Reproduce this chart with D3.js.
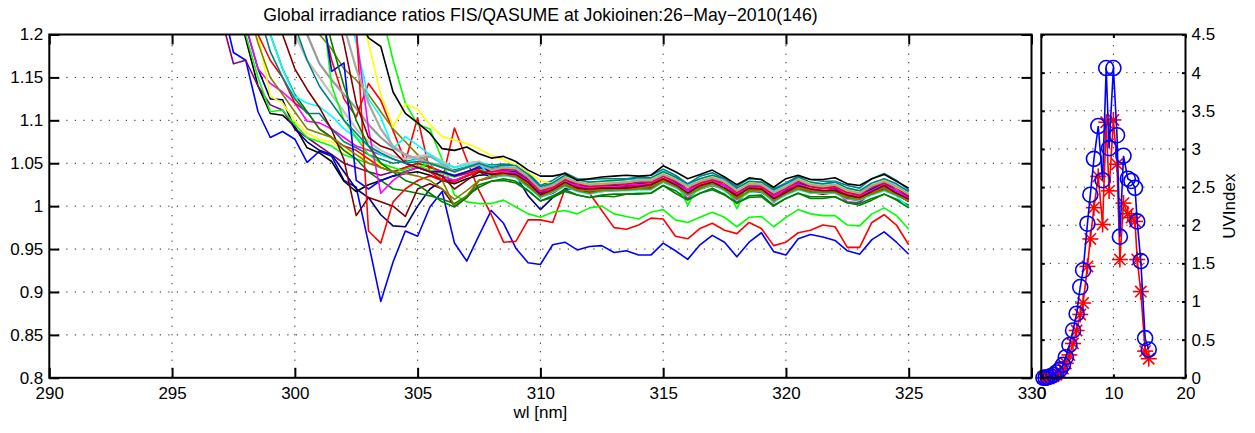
<!DOCTYPE html>
<html>
<head>
<meta charset="utf-8">
<script src="https://cdn.jsdelivr.net/npm/d3@7"></script>
<style>
  html, body { margin: 0; padding: 0; background: #fff; }
  svg { display: block; font-family: "Liberation Sans", Arial, Helvetica, sans-serif; }
</style>
</head>
<body>
<svg id="chart" width="1255" height="433"></svg>
<script>
// ---------- data ----------
const N = null;

// wavelength grid of the spectral scans [nm]
const wavelengths = [296.5,297,297.5,298,298.5,299,299.5,300,300.5,301,301.5,302,302.5,303,303.5,304,304.5,305,305.5,306,306.5,307,307.5,
  308,308.5,309,309.5,310,310.5,311,311.5,312,312.5,313,313.5,314,314.5,315,315.5,316,316.5,317,317.5,318,318.5,319,319.5,320,320.5,321,321.5,322,322.5,323,323.5,324,324.5,325];

// FIS/QASUME global irradiance ratio, one array per scan
const scanBlueLow = [N,1.24,1.179,1.170,1.110,1.080,1.087,1.078,1.051,1.064,1.058,1.030,1.022,0.957,0.889,0.935,0.971,0.965,0.999,1.017,0.957,0.936,0.966,
  0.995,0.980,0.951,0.934,0.932,0.955,0.958,0.949,0.953,0.954,0.946,0.948,0.943,0.943,0.957,0.948,0.938,0.955,0.966,0.958,0.941,0.958,0.969,0.947,0.943,0.962,0.967,0.964,0.960,0.948,0.944,0.961,0.970,0.958,0.944];
const scanRedLow = [N,N,N,N,N,N,N,N,N,1.23,1.17,1.125,1.104,1.143,1.123,1.088,1.052,1.103,1.040,1.030,1.091,1.054,1.018,
  0.990,0.958,0.959,0.984,0.984,0.981,1.020,1.027,1.015,0.995,0.975,0.973,0.978,0.986,0.985,0.965,0.962,0.974,0.980,0.972,0.968,0.981,0.974,0.954,0.958,0.969,0.972,0.978,0.976,0.952,0.952,0.981,0.990,0.978,0.955];
const scanGreenLow = [N,N,N,N,N,N,N,N,N,N,N,N,N,N,1.23,1.17,1.12,1.095,1.090,1.054,1.013,1.005,1.003,
  1.003,1.007,0.999,0.991,0.987,0.993,0.995,0.991,0.998,1.000,0.991,0.988,0.985,0.993,0.996,0.984,0.981,0.987,0.993,0.987,0.976,0.987,0.988,0.976,0.987,0.996,0.991,0.989,0.989,0.978,0.977,0.991,0.998,0.989,0.973];
const scanBlack2 = [N,N,1.25,1.195,1.14,1.108,1.106,1.093,1.068,1.062,1.052,1.029,1.017,1.025,1.030,1.035,1.038,1.040,1.036,1.030,1.026,1.032,1.036,
  1.037,1.038,1.035,1.026,1.014,1.018,1.025,1.021,1.018,1.020,1.019,1.022,1.022,1.023,1.032,1.023,1.015,1.023,1.027,1.021,1.012,1.018,1.019,1.008,1.017,1.023,1.017,1.017,1.019,1.012,1.009,1.015,1.022,1.015,1.006];
const scanPurple = [N,1.22,1.166,1.170,1.14,1.118,1.112,1.09,1.08,1.07,1.06,1.05,1.045,1.04,1.036,1.04,1.045,1.05,1.046,1.04,1.036,1.04,1.044,
  1.043,1.046,1.043,1.032,1.020,1.026,1.033,1.027,1.024,1.027,1.028,1.028,1.029,1.029,1.038,1.032,1.022,1.029,1.035,1.028,1.017,1.026,1.027,1.015,1.023,1.029,1.025,1.025,1.025,1.018,1.017,1.023,1.028,1.022,1.015];
const scanNavy = [N,N,1.26,1.21,1.16,1.125,1.124,1.09,1.075,1.065,1.06,1.04,1.02,1.01,0.99,0.977,0.976,1.00,1.02,1.03,1.03,1.035,1.04,
  1.034,1.037,1.036,1.012,0.996,1.010,1.020,1.020,1.017,1.018,1.019,1.020,1.022,1.022,1.029,1.023,1.015,1.021,1.025,1.021,1.010,1.018,1.017,1.008,1.015,1.023,1.017,1.015,1.017,1.010,1.007,1.016,1.021,1.015,1.006];
const scanGreen = [N,N,1.24,1.20,1.15,1.11,1.112,1.095,1.08,1.075,1.07,1.06,1.055,1.05,1.045,1.04,1.043,1.047,1.042,1.038,1.034,1.038,1.042,
  1.041,1.042,1.041,1.032,1.017,1.023,1.032,1.025,1.024,1.025,1.025,1.025,1.027,1.029,1.036,1.029,1.019,1.028,1.032,1.025,1.016,1.025,1.024,1.013,1.020,1.028,1.024,1.022,1.022,1.017,1.014,1.021,1.028,1.019,1.012];
const scanMagenta = [N,N,1.25,1.21,1.16,1.143,1.133,1.12,1.099,1.097,1.09,1.08,1.07,1.065,1.06,1.055,1.05,1.045,1.04,1.035,1.03,1.036,1.04,
  1.036,1.039,1.036,1.025,1.013,1.019,1.026,1.020,1.017,1.020,1.021,1.021,1.022,1.022,1.031,1.025,1.009,1.022,1.028,1.021,1.004,1.019,1.020,1.004,1.016,1.022,1.018,1.018,1.018,1.005,1.004,1.016,1.021,1.015,1.008];
const scanYellow = [N,N,N,1.25,1.2,1.128,1.12,1.10,1.085,1.078,1.075,1.065,1.06,1.055,1.048,1.045,1.04,1.045,1.05,1.045,1.04,1.045,1.046,
  1.041,1.042,1.039,1.030,1.018,1.022,1.029,1.025,1.022,1.024,1.023,1.026,1.026,1.027,1.036,1.027,1.019,1.027,1.031,1.025,1.016,1.022,1.023,1.012,1.021,1.027,1.021,1.021,1.023,1.016,1.013,1.019,1.026,1.019,1.010];
const scanRed = [N,N,N,1.24,1.2,1.17,1.15,1.12,1.11,1.09,1.08,1.07,1.065,1.055,1.045,1.04,1.045,1.05,1.045,1.04,1.035,1.038,1.042,
  1.037,1.040,1.039,1.029,1.015,1.019,1.028,1.023,1.020,1.021,1.022,1.023,1.025,1.025,1.032,1.026,1.018,1.024,1.028,1.024,1.013,1.021,1.020,1.011,1.018,1.026,1.020,1.018,1.020,1.013,1.010,1.019,1.024,1.018,1.009];
const scanTeal = [N,N,N,N,1.23,1.18,1.15,1.125,1.108,1.108,1.09,1.075,1.068,1.06,1.055,1.05,1.052,1.055,1.05,1.045,1.042,1.046,1.05,
  1.048,1.049,1.048,1.039,1.024,1.030,1.039,1.032,1.031,1.032,1.032,1.032,1.034,1.036,1.043,1.036,1.026,1.035,1.039,1.032,1.023,1.032,1.031,1.020,1.027,1.035,1.031,1.029,1.029,1.024,1.021,1.032,1.038,1.030,1.019];
const scanDarkGreen = [N,N,N,N,1.25,1.2,1.16,1.13,1.11,1.09,1.08,1.065,1.055,1.04,1.03,1.02,1.018,1.015,1.012,1.008,1.003,1.012,1.022,
  1.029,1.032,1.029,1.018,1.006,1.012,1.019,1.013,1.010,1.013,1.014,1.014,1.015,1.015,1.024,1.018,1.008,1.015,1.021,1.014,1.003,1.012,1.013,1.001,1.009,1.015,1.011,1.011,1.011,1.004,1.003,1.009,1.014,1.008,1.001];
const scanCyan = [N,N,N,N,1.26,1.2,1.16,1.128,1.12,1.116,1.105,1.09,1.08,1.07,1.06,1.055,1.05,1.055,1.06,1.052,1.045,1.05,1.052,
  1.046,1.047,1.044,1.035,1.023,1.027,1.034,1.030,1.027,1.029,1.028,1.031,1.031,1.032,1.041,1.032,1.024,1.032,1.036,1.030,1.021,1.027,1.028,1.017,1.026,1.032,1.026,1.026,1.028,1.021,1.018,1.024,1.031,1.024,1.015];
const scanMaroon = [N,N,N,N,N,1.25,1.20,1.16,1.136,1.115,1.089,1.054,0.989,1.01,1.005,1.0,0.988,1.02,1.026,1.02,1.0,1.01,1.03,
  1.033,1.036,1.035,1.025,1.011,1.015,1.024,1.019,1.016,1.017,1.018,1.019,1.021,1.021,1.028,1.022,1.014,1.020,1.024,1.020,1.009,1.017,1.016,1.007,1.014,1.022,1.016,1.014,1.016,1.009,1.006,1.015,1.020,1.014,1.005];
const scanOlive = [N,N,N,N,N,N,N,N,1.25,1.2,1.183,1.16,1.147,1.13,1.11,1.09,1.075,1.06,1.05,1.03,1.0,1.012,1.03,
  1.035,1.036,1.035,1.026,1.011,1.017,1.026,1.019,1.018,1.019,1.019,1.019,1.021,1.023,1.030,1.023,1.013,1.022,1.026,1.019,1.010,1.019,1.018,1.007,1.014,1.022,1.018,1.016,1.016,1.011,1.008,1.015,1.022,1.013,1.006];
const scanGray = [N,N,N,N,N,N,N,1.25,1.2,1.166,1.147,1.13,1.114,1.095,1.08,1.068,1.06,1.055,1.058,1.05,1.04,1.045,1.048,
  1.042,1.045,1.042,1.031,1.019,1.025,1.032,1.026,1.023,1.026,1.027,1.027,1.028,1.028,1.037,1.031,1.021,1.028,1.034,1.027,1.016,1.025,1.026,1.014,1.022,1.028,1.024,1.024,1.024,1.017,1.016,1.022,1.027,1.021,1.014];
const scanSilver = [N,N,N,N,N,N,1.24,1.20,1.17,1.15,1.13,1.11,1.09,1.075,1.065,1.058,1.055,1.058,1.06,1.052,1.045,1.05,1.052,
  1.042,1.043,1.040,1.031,1.019,1.023,1.030,1.026,1.023,1.025,1.024,1.027,1.027,1.028,1.037,1.028,1.020,1.028,1.032,1.026,1.017,1.023,1.024,1.013,1.022,1.028,1.022,1.022,1.024,1.017,1.014,1.020,1.027,1.020,1.011];
const scanGreen2 = [N,N,N,N,N,N,N,N,N,1.26,1.14,1.10,1.08,1.06,1.05,1.045,1.04,1.045,1.05,1.045,1.04,1.045,1.05,
  1.041,1.044,1.043,1.033,1.019,1.023,1.032,1.027,1.024,1.025,1.026,1.027,1.029,1.029,1.036,1.030,1.001,1.028,1.032,1.028,0.997,1.025,1.024,1.015,1.022,1.030,1.024,1.022,1.024,1.017,1.014,1.023,1.028,1.022,1.013];
const scanBlue2 = [N,N,N,N,N,N,N,N,N,1.25,1.157,1.167,1.03,1.02,1.03,1.035,1.04,1.045,1.04,1.04,1.035,1.04,1.046,
  1.040,1.041,1.040,1.031,1.016,1.022,1.031,1.024,1.023,1.024,1.024,1.024,1.026,1.028,1.035,1.028,1.018,1.027,1.031,1.024,1.015,1.024,1.023,1.012,1.019,1.027,1.023,1.021,1.021,1.016,1.013,1.020,1.027,1.018,1.011];
const scanCyan2 = [N,N,N,N,N,N,N,N,N,N,N,1.25,1.19,1.125,1.104,1.067,1.081,1.071,1.06,1.05,1.045,1.048,1.05,
  1.033,1.036,1.033,1.022,1.010,1.016,1.023,1.017,1.014,1.017,1.018,1.018,1.019,1.019,1.028,1.022,1.012,1.019,1.025,1.018,1.007,1.016,1.017,1.005,1.013,1.019,1.015,1.015,1.015,1.008,1.007,1.013,1.018,1.012,0.998];
const scanMagenta2 = [N,N,N,N,N,N,N,N,N,N,N,1.25,1.20,1.09,1.015,1.03,1.04,1.045,1.04,1.035,1.03,1.035,1.04,
  1.040,1.041,1.038,1.029,1.017,1.021,1.028,1.024,1.021,1.023,1.022,1.025,1.025,1.026,1.035,1.026,1.018,1.026,1.030,1.024,1.015,1.021,1.022,1.011,1.020,1.026,1.020,1.020,1.022,1.015,1.012,1.018,1.025,1.018,1.009];
const scanRed2 = [N,N,N,N,N,N,N,N,N,N,N,N,1.21,0.971,0.957,1.005,1.02,1.03,1.035,1.03,1.028,1.035,1.04,
  1.040,1.043,1.042,1.032,1.018,1.022,1.031,1.026,1.023,1.024,1.025,1.026,1.028,1.028,1.035,1.029,1.021,1.027,1.031,1.027,1.016,1.024,1.023,1.014,1.021,1.029,1.023,1.021,1.023,1.016,1.013,1.022,1.027,1.021,1.012];
const scanYellow2 = [N,N,N,N,N,N,N,N,N,N,N,N,1.24,1.19,1.13,1.092,1.119,1.113,1.095,1.081,1.077,1.073,1.067,
  1.059,1.054,1.048,1.039,1.030,1.026,1.035,1.028,1.027,1.028,1.028,1.028,1.030,1.032,1.039,1.032,1.022,1.031,1.035,1.028,1.019,1.028,1.027,1.016,1.023,1.031,1.027,1.025,1.025,1.020,1.017,1.024,1.031,1.022,1.015];
const scanMaroon2 = [N,N,N,N,N,N,N,N,N,N,1.25,1.19,1.12,1.08,1.07,1.065,1.05,1.045,1.04,1.035,1.02,1.03,1.04,
  1.037,1.038,1.037,1.028,1.013,1.019,1.028,1.021,1.020,1.021,1.021,1.021,1.023,1.025,1.032,1.025,1.015,1.024,1.028,1.021,1.012,1.021,1.020,1.009,1.016,1.024,1.020,1.018,1.018,1.013,1.010,1.017,1.024,1.015,1.008];
const scanGray2 = [N,N,N,N,N,N,N,N,N,N,1.26,1.21,1.16,1.12,1.09,1.07,1.06,1.055,1.05,1.048,1.04,1.045,1.05,
  1.042,1.045,1.044,1.034,1.020,1.024,1.033,1.028,1.025,1.026,1.027,1.028,1.030,1.030,1.037,1.031,1.023,1.029,1.033,1.029,1.018,1.026,1.025,1.016,1.023,1.031,1.025,1.023,1.025,1.018,1.015,1.024,1.029,1.023,1.014];
const scanDarkGreen2 = [N,N,N,N,N,N,N,N,N,1.25,1.19,1.14,1.10,1.07,1.05,1.04,1.03,1.025,1.015,1.005,0.999,1.01,1.025,
  1.029,1.030,1.027,1.018,1.006,1.010,1.017,1.013,1.010,1.012,1.011,1.014,1.014,1.015,1.024,1.015,1.007,1.015,1.019,1.013,1.004,1.010,1.011,1.000,1.009,1.015,1.009,1.009,1.011,1.004,1.001,1.007,1.014,1.007,0.998];
const scanOlive2 = [N,N,N,1.24,1.19,1.15,1.13,1.11,1.09,1.085,1.08,1.07,1.06,1.05,1.045,1.04,1.038,1.035,1.03,1.02,1.008,1.018,1.03,
  1.034,1.037,1.034,1.023,1.011,1.017,1.024,1.018,1.015,1.018,1.019,1.019,1.020,1.020,1.029,1.023,1.013,1.020,1.026,1.019,1.008,1.017,1.018,1.006,1.014,1.020,1.016,1.016,1.016,1.009,1.008,1.014,1.019,1.013,1.006];
const scanTeal2 = [N,N,N,N,N,N,1.26,1.21,1.17,1.14,1.12,1.1,1.085,1.07,1.062,1.055,1.05,1.052,1.05,1.045,1.04,1.045,1.05,
  1.045,1.048,1.047,1.037,1.023,1.027,1.036,1.031,1.028,1.029,1.030,1.031,1.033,1.033,1.040,1.034,1.026,1.032,1.036,1.032,1.021,1.029,1.028,1.019,1.026,1.034,1.028,1.026,1.028,1.021,1.018,1.027,1.032,1.026,1.017];
const scanBlack = [N,N,N,N,N,N,N,N,N,N,N,1.26,1.225,1.196,1.186,1.133,1.108,1.097,1.085,1.067,1.065,1.069,1.061,
  1.056,1.058,1.052,1.042,1.035,1.035,1.038,1.030,1.032,1.034,1.035,1.036,1.035,1.036,1.047,1.040,1.032,1.037,1.042,1.034,1.025,1.033,1.031,1.022,1.032,1.036,1.031,1.031,1.033,1.026,1.024,1.032,1.037,1.029,1.021];

// axis ticks
const wlTicks = [290,295,300,305,310,315,320,325,330];
const ratioTicks = [0.8,0.85,0.9,0.95,1,1.05,1.1,1.15,1.2];
const hourTicks = [0,10,20];
const uviTicks = [0,0.5,1,1.5,2,2.5,3,3.5,4,4.5];

// UV index time series during the day
const scanHours = [0.3,0.6,0.9,1.3,1.7,2.1,2.6,3.0,3.4,3.9,4.4,4.9,5.4,5.8,6.4,6.8,7.3,7.9,8.5,9.0,9.4,10.0,10.5,10.9,11.4,12.0,12.5,13.0,13.3,13.8,14.4,14.9];
const uviQasume = [0.00,0.00,0.01,0.02,0.04,0.07,0.11,0.17,0.27,0.43,0.62,0.84,1.19,1.41,2.02,2.40,2.87,3.30,2.59,4.06,3.01,4.06,3.18,1.85,2.91,2.61,2.58,2.49,2.05,1.53,0.52,0.37];
const uviFis = [0.00,0.00,0.00,0.01,0.02,0.04,0.07,0.12,0.19,0.30,0.45,0.62,0.83,0.98,1.46,1.82,2.23,2.64,2.01,3.35,2.45,3.38,2.80,1.55,2.29,2.15,2.10,2.05,1.55,1.13,0.35,0.25];

// ---------- styling ----------
const scans = [
  [scanBlueLow, '#0000ff'], [scanRedLow, '#ff0000'], [scanGreenLow, '#00ff00'],
  [scanBlack2, '#000000'], [scanPurple, '#800080'], [scanNavy, '#000080'], [scanGreen, '#00ff00'],
  [scanMagenta, '#ff00ff'], [scanYellow, '#ffff00'], [scanRed, '#ff0000'], [scanTeal, '#008080'],
  [scanDarkGreen, '#008000'], [scanCyan, '#00ffff'], [scanMaroon, '#800000'], [scanOlive, '#808000'],
  [scanGray, '#999999'], [scanSilver, '#c0c0c0'], [scanGreen2, '#00ff00'], [scanBlue2, '#0000ff'],
  [scanCyan2, '#00ffff'], [scanMagenta2, '#ff00ff'], [scanRed2, '#ff0000'], [scanYellow2, '#ffff00'],
  [scanMaroon2, '#800000'], [scanGray2, '#a8a8a8'], [scanDarkGreen2, '#008000'], [scanOlive2, '#808000'],
  [scanTeal2, '#008080'], [scanBlack, '#000000']
];
const greyish = new Set(['#999999', '#a8a8a8', '#c0c0c0']);

const svg = d3.select('#chart');
const FONT = 17;

// panel frames
const P1 = { left: 49.3, right: 1031.5, top: 34.5, bottom: 377.8 };
const P2 = { left: 1041.3, right: 1185.5, top: 34.5, bottom: 377.8 };

const xWl = d3.scaleLinear().domain([290, 330]).range([P1.left, P1.right]);
const yRatio = d3.scaleLinear().domain([0.8, 1.2]).range([P1.bottom, P1.top]);
const xHour = d3.scaleLinear().domain([0, 20]).range([P2.left, P2.right]);
const yUvi = d3.scaleLinear().domain([0, 4.5]).range([P2.bottom, P2.top]);

// dotted grid at the inner ticks
function grid(g, xs, ys, xVals, yVals) {
  const [x0, x1] = xs.range(), [y0, y1] = ys.range();
  g.selectAll('line.gx').data(xVals.slice(1, -1)).join('line').attr('class', 'gx')
    .attr('x1', d => xs(d)).attr('x2', d => xs(d)).attr('y1', y0).attr('y2', y1);
  g.selectAll('line.gy').data(yVals.slice(1, -1)).join('line').attr('class', 'gy')
    .attr('x1', x0).attr('x2', x1).attr('y1', d => ys(d)).attr('y2', d => ys(d));
  g.selectAll('line').attr('stroke', '#222').attr('stroke-width', 1)
    .attr('stroke-dasharray', '1.2,7.3');
}

// boxed axes with inward ticks on all four sides
function frame(xs, ys, xVals, yVals, tick, opts) {
  const [x0, x1] = xs.range(), [y0, y1] = ys.range();
  const g = svg.append('g');
  const style = sel => {
    sel.select('.domain').remove();
    sel.selectAll('.tick line').attr('stroke', '#000').attr('stroke-width', 2);
    sel.selectAll('.tick text').attr('font-size', FONT).attr('fill', '#000')
      .attr('font-family', '"Liberation Sans", Arial, Helvetica, sans-serif');
  };
  const fmt = d => String(d);
  g.append('g').attr('transform', `translate(0,${y0})`)
    .call(d3.axisBottom(xs).tickValues(xVals).tickSize(-tick).tickPadding(9)
      .tickFormat(opts.bottomLabels ? fmt : () => '')).call(style);
  g.append('g').attr('transform', `translate(0,${y1})`)
    .call(d3.axisTop(xs).tickValues(xVals).tickSize(-tick).tickFormat(() => '')).call(style);
  g.append('g').attr('transform', `translate(${x0},0)`)
    .call(d3.axisLeft(ys).tickValues(yVals).tickSize(-tick).tickPadding(6)
      .tickFormat(opts.leftLabels ? fmt : () => '')).call(style);
  g.append('g').attr('transform', `translate(${x1},0)`)
    .call(d3.axisRight(ys).tickValues(yVals).tickSize(-tick).tickPadding(6)
      .tickFormat(opts.rightLabels ? fmt : () => '')).call(style);
  g.append('rect').attr('x', x0).attr('y', y1).attr('width', x1 - x0).attr('height', y0 - y1)
    .attr('fill', 'none').attr('stroke', '#000').attr('stroke-width', 2);
}

// ---------- left panel: spectral ratios ----------
grid(svg.append('g'), xWl, yRatio, wlTicks, ratioTicks);

svg.append('clipPath').attr('id', 'clip-ratio').append('rect')
  .attr('x', P1.left).attr('y', P1.top).attr('width', P1.right - P1.left).attr('height', P1.bottom - P1.top);

const ratioLine = d3.line()
  .defined(d => d.v != null)
  .x(d => xWl(d.w)).y(d => yRatio(d.v));

svg.append('g').attr('clip-path', 'url(#clip-ratio)')
  .selectAll('path').data(scans).join('path')
  .attr('d', ([vals]) => ratioLine(vals.map((v, i) => ({ w: wavelengths[i], v }))))
  .attr('fill', 'none')
  .attr('stroke', ([, c]) => c)
  .attr('stroke-width', ([, c]) => greyish.has(c) ? 2.2 : 1.6)
  .attr('stroke-linejoin', 'round');

frame(xWl, yRatio, wlTicks, ratioTicks, 10, { bottomLabels: true, leftLabels: true });

// ---------- right panel: UV index ----------
grid(svg.append('g'), xHour, yUvi, hourTicks, uviTicks);

const uviLine = d3.line().x(d => xHour(d[0])).y(d => yUvi(d[1]));
const fisPts = scanHours.map((t, i) => [t, uviFis[i]]);
const qasPts = scanHours.map((t, i) => [t, uviQasume[i]]);

svg.append('path').attr('d', uviLine(fisPts)).attr('fill', 'none')
  .attr('stroke', '#ff0000').attr('stroke-width', 1.6);
const starAngles = [0, Math.PI / 4, Math.PI / 2, 3 * Math.PI / 4];
const starG = svg.append('g').attr('stroke', '#ff0000').attr('stroke-width', 1.6);
fisPts.forEach(p => {
  const cx = xHour(p[0]), cy = yUvi(p[1]);
  starAngles.forEach(a => {
    starG.append('line')
      .attr('x1', cx - 8 * Math.cos(a)).attr('y1', cy - 8 * Math.sin(a))
      .attr('x2', cx + 8 * Math.cos(a)).attr('y2', cy + 8 * Math.sin(a));
  });
});

svg.append('path').attr('d', uviLine(qasPts)).attr('fill', 'none')
  .attr('stroke', '#0000ff').attr('stroke-width', 1.6);
svg.append('g').selectAll('circle').data(qasPts).join('circle')
  .attr('cx', d => xHour(d[0])).attr('cy', d => yUvi(d[1])).attr('r', 7.5)
  .attr('fill', 'none').attr('stroke', '#0000ff').attr('stroke-width', 1.6);

frame(xHour, yUvi, hourTicks, uviTicks, 3.5, { bottomLabels: true, rightLabels: true });

// ---------- titles ----------
svg.append('text').attr('x', (P1.left + P1.right) / 2).attr('y', 21)
  .attr('text-anchor', 'middle').attr('font-size', 17.7)
  .text('Global irradiance ratios FIS/QASUME at Jokioinen:26\u2212May\u22122010(146)');
svg.append('text').attr('x', (P1.left + P1.right) / 2).attr('y', 418)
  .attr('text-anchor', 'middle').attr('font-size', FONT).text('wl [nm]');
svg.append('text').attr('transform', `translate(1235,${(P2.top + P2.bottom) / 2}) rotate(-90)`)
  .attr('text-anchor', 'middle').attr('font-size', FONT).text('UVIndex');
</script>
</body>
</html>
